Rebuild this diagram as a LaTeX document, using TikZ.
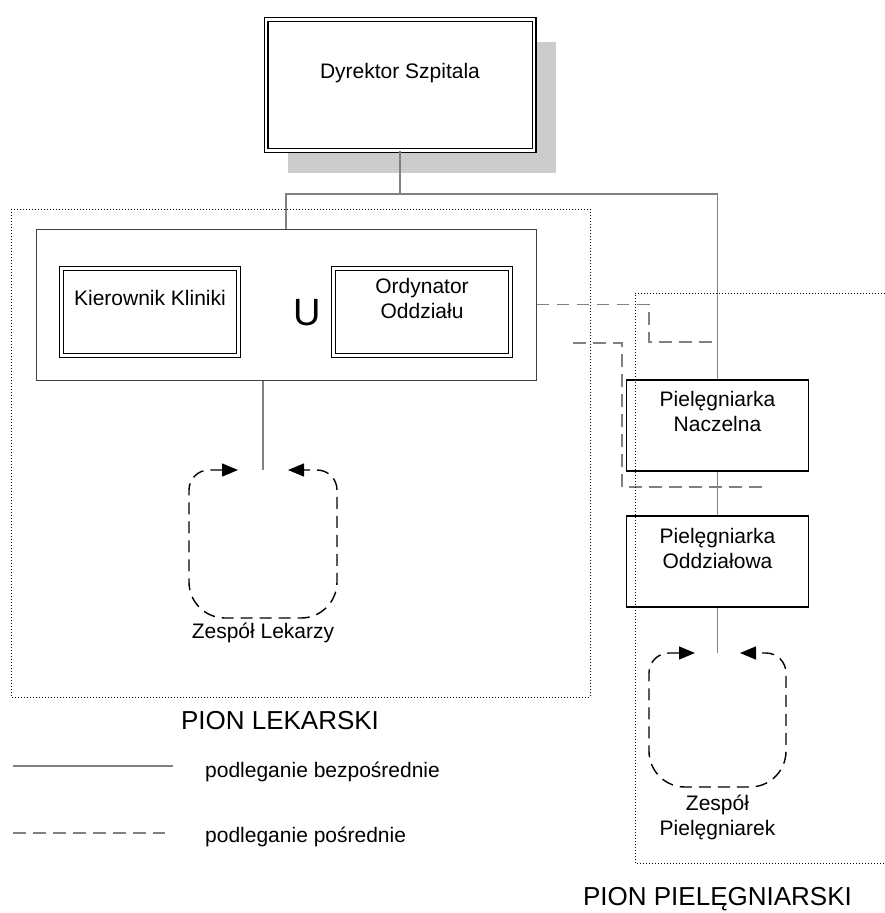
\documentclass[tikz,border=0pt]{standalone}
\usepackage{fontspec}
\setmainfont{Liberation Sans}
\usetikzlibrary{arrows.meta,positioning,shadows}

\begin{document}
\begin{tikzpicture}[
    x=1pt, y=-1pt,
    font=\fontsize{21}{25}\selectfont,
    dbox/.style={draw, double, double distance=2.4pt, line width=1.3pt, fill=white, inner sep=0pt},
    box/.style={draw, line width=1.4pt, fill=white, inner sep=0pt, minimum width=182pt, minimum height=91pt},
    txt/.style={inner sep=0pt, align=center},
    big/.style={inner sep=0pt, font=\fontsize{26}{30}\selectfont},
    direct/.style={draw=black!50, line width=1.6pt},
    indirect/.style={draw=black!50, line width=1.6pt, dash pattern=on 12.5pt off 7.5pt},
    team/.style={line width=1.4pt, dash pattern=on 12pt off 7pt,
      {Triangle[length=16pt,width=13pt]}-{Triangle[length=16pt,width=13pt]}},
    pion/.style={draw, dotted, line width=1pt},
  ]
  \useasboundingbox (0,0) rectangle (885,913);

  % top
  \node[dbox, minimum width=268pt, minimum height=131pt,
    drop shadow={shadow xshift=22pt, shadow yshift=-22pt, fill=black!20, opacity=1}] (dyr) at (400,85) {};
  \node[txt, anchor=base] (dyrT) at (400,78) {Dyrektor Szpitala};

  % pion lekarski
  \node[draw=black!75, line width=1pt, minimum width=500pt, minimum height=151pt] (duo) at (286,304.5) {};
  \node[dbox, minimum width=177pt, minimum height=87pt] (kier) at (150,312) {};
  \node[txt, anchor=base] (kierT) at (150,305) {Kierownik Kliniki};
  \node[dbox, minimum width=177pt, minimum height=87pt] (ord) at (422,312) {};
  \node[txt] (ordT) at (422,298) {Ordynator\\Oddziału};
  \node[inner sep=0pt, font=\fontsize{38}{40}\selectfont] (u) at (307,313) {U};

  % pion pielegniarski
  \node[box] (nacz) at (717.5,425.5) {};
  \node[txt] (naczT) at (717.5,411.3) {Pielęgniarka\\Naczelna};
  \node[box] (oddz) at (717.5,561.5) {};
  \node[txt] (oddzT) at (717.5,548) {Pielęgniarka\\Oddziałowa};

  \coordinate (split) at (400,194);
  \coordinate (zl) at (263,470);
  \coordinate (zp) at (717.5,653);
  \coordinate (bend) at (649,342);
  \coordinate (from) at (573,343);
  \coordinate (to) at (766,487);

  \draw[direct] (dyr.south) -- (split) -| (duo.north);
  \draw[direct] (split) -| (nacz.north);
  \draw[direct] (duo.south -| zl) -- (zl);
  \draw[direct] (nacz) -- (oddz);
  \draw[direct] (oddz) -- (zp);

  \draw[indirect] (duo.east) -| (bend) -- (bend -| nacz.north);
  \draw[indirect] (from) -- (622,343) |- (to);

  % zespoly
  \draw[team] ([xshift=-25pt]zl) [rounded corners=20pt] -- ++(-49,0) [rounded corners=36pt] -- ++(0,148)
    -- ++(148,0) [rounded corners=20pt] -- ++(0,-148) -- ++(-49,0);
  \node[txt, anchor=base] (zlT) at (263,638) {Zespół Lekarzy};
  \draw[team] ([xshift=-22.5pt]zp) [rounded corners=20pt] -- ++(-46,0) [rounded corners=36pt] -- ++(0,134)
    -- ++(137,0) [rounded corners=20pt] -- ++(0,-134) -- ++(-46,0);
  \node[txt] (zpT) at (717.5,817) {Zespół\\Pielęgniarek};

  % ramki
  \draw[pion] (11,209) rectangle (590,697);
  \draw[pion] (885,293) -| (635,863) -- (885,863);
  \node[big, anchor=base] (pionL) at (280,729) {PION LEKARSKI};
  \node[big, anchor=base] (pionP) at (717.5,905) {PION PIELĘGNIARSKI};

  % legenda
  \coordinate (ls1) at (13,766);
  \coordinate (ls2) at (173,766);
  \coordinate (li1) at (13,833);
  \coordinate (li2) at (165,833);
  \draw[direct] (ls1) -- (ls2);
  \draw[indirect] (li1) -- (li2);
  \node[txt, anchor=base west] (lsT) at (205,777) {podleganie bezpośrednie};
  \node[txt, anchor=base west] (liT) at (205,842) {podleganie pośrednie};
\end{tikzpicture}
\end{document}
